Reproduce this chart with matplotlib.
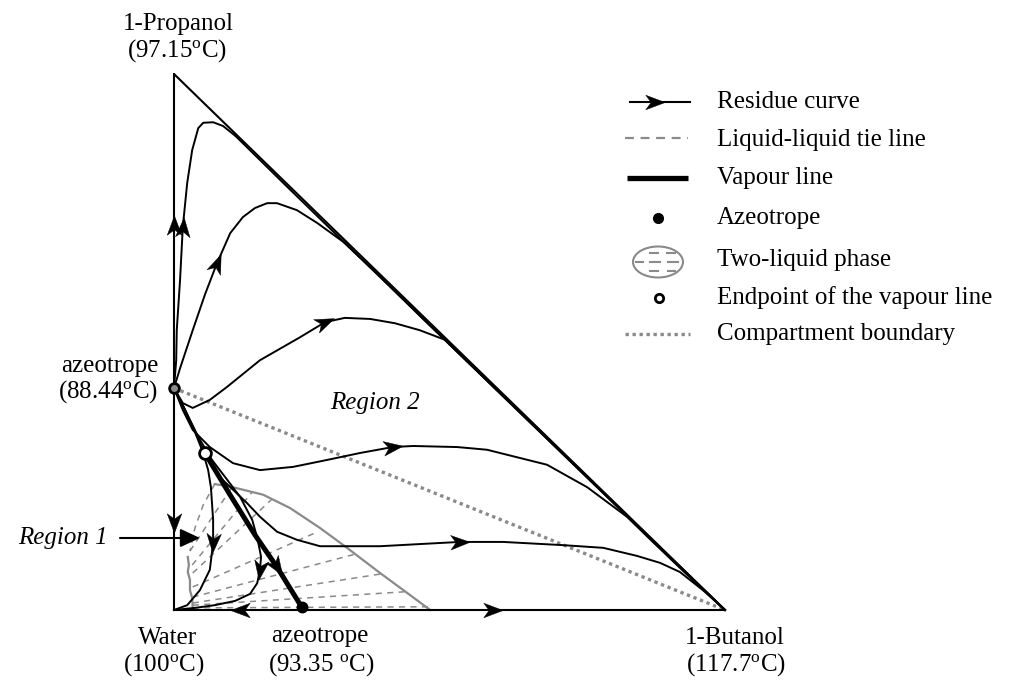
import numpy as np
import matplotlib
matplotlib.use('Agg')
import matplotlib.pyplot as plt
from matplotlib.path import Path
from matplotlib.markers import MarkerStyle
from matplotlib.transforms import Affine2D
from matplotlib.patches import Ellipse

plt.rcParams['font.family'] = ['Liberation Serif', 'DejaVu Serif']
plt.rcParams['mathtext.fontset'] = 'custom'
plt.rcParams['mathtext.rm'] = 'Liberation Serif'
plt.rcParams['mathtext.it'] = 'Liberation Serif:italic'

# compositions as (x_butanol, x_propanol), water is the rest
azeo_pw = (0.0, 0.414)      # 1-propanol / water azeotrope, 88.44 C
azeo_bw = (0.232, 0.005)    # 1-butanol / water azeotrope, 93.35 C
vap_end = (0.056, 0.293)    # endpoint of the vapour line

# residue curves leaving the propanol/water azeotrope
rc_top = [(0, 0.414), (0.004, 0.466), (0.005, 0.522), (0.011, 0.616), (0.016, 0.715),
          (0.024, 0.797), (0.033, 0.858), (0.044, 0.899), (0.053, 0.909), (0.071, 0.910),
          (0.089, 0.903), (0.112, 0.884), (0.2, 0.795), (0.35, 0.645), (0.5, 0.496),
          (0.65, 0.347), (0.8, 0.198), (0.9, 0.099), (1.0, 0.0)]
rc_2 = [(0, 0.414), (0.011, 0.451), (0.022, 0.485), (0.034, 0.522), (0.056, 0.588),
        (0.078, 0.647), (0.102, 0.703), (0.125, 0.733), (0.147, 0.750), (0.169, 0.759),
        (0.187, 0.759), (0.223, 0.746), (0.260, 0.722), (0.307, 0.687), (0.368, 0.628),
        (0.45, 0.545), (0.6, 0.396), (0.75, 0.247), (0.9, 0.098), (1.0, 0.0)]
rc_3 = [(0, 0.414), (0.016, 0.386), (0.034, 0.377), (0.065, 0.392), (0.096, 0.416),
        (0.156, 0.466), (0.229, 0.509), (0.274, 0.537), (0.310, 0.545), (0.356, 0.543),
        (0.401, 0.535), (0.446, 0.522), (0.492, 0.504), (0.6, 0.396), (0.75, 0.247),
        (0.9, 0.098), (1.0, 0.0)]
rc_4 = [(0, 0.414), (0.016, 0.373), (0.034, 0.336), (0.065, 0.304), (0.107, 0.274),
        (0.156, 0.261), (0.216, 0.267), (0.278, 0.280), (0.338, 0.293), (0.397, 0.304),
        (0.434, 0.306), (0.514, 0.304), (0.568, 0.299), (0.677, 0.271), (0.750, 0.229),
        (0.822, 0.174), (0.866, 0.130), (0.929, 0.068), (1.0, 0.0)]
rc_5 = [(0, 0.414), (0.016, 0.382), (0.033, 0.345), (0.056, 0.293), (0.083, 0.248),
        (0.132, 0.200), (0.156, 0.174), (0.187, 0.146), (0.223, 0.131), (0.265, 0.119),
        (0.374, 0.119), (0.446, 0.123), (0.519, 0.127), (0.597, 0.127), (0.706, 0.121),
        (0.779, 0.116), (0.840, 0.101), (0.882, 0.088), (0.918, 0.071), (0.960, 0.037),
        (1.0, 0.0)]
rc_a = [(0, 0.414), (0.020, 0.373), (0.038, 0.332), (0.053, 0.293), (0.062, 0.261),
        (0.067, 0.229), (0.071, 0.168), (0.071, 0.125), (0.065, 0.075), (0.047, 0.037),
        (0.024, 0.009), (0.0, 0.0)]
rc_b = [(0, 0.414), (0.022, 0.369), (0.044, 0.323), (0.069, 0.280), (0.098, 0.241),
        (0.120, 0.211), (0.142, 0.168), (0.152, 0.131), (0.158, 0.099), (0.156, 0.075),
        (0.151, 0.050), (0.138, 0.030), (0.111, 0.017), (0.074, 0.009), (0.038, 0.004),
        (0.0, 0.0)]
# binary edges, split at the azeotropes
edge_pw_water = [(0, 0.414), (0, 0.162), (0, 0.0)]
edge_pw_prop = [(0, 0.414), (0, 0.718), (0, 1.0)]
edge_bw_water = [(0.232, 0.0), (0.120, 0.0), (0.0, 0.0)]
edge_bw_but = [(0.232, 0.0), (0.579, 0.0), (1.0, 0.0)]
residue_curves = [rc_top, rc_2, rc_3, rc_4, rc_5, rc_a, rc_b,
                  edge_pw_water, edge_pw_prop, edge_bw_water, edge_bw_but]
arrow_pts = [(0.016, 0.715), (0.078, 0.647), (0.274, 0.537), (0.397, 0.304),
             (0.519, 0.127), (0.071, 0.125), (0.156, 0.075),
             (0, 0.162), (0, 0.718), (0.120, 0.0), (0.579, 0.0)]

vapour_line = [(0.056, 0.293), (0.101, 0.216), (0.147, 0.140), (0.187, 0.080), (0.232, 0.005)]
vapour_arrow = (0.187, 0.080)

# liquid-liquid envelope
binodal_org = [(0.074, 0.235), (0.107, 0.229), (0.162, 0.215), (0.211, 0.190), (0.265, 0.153),
               (0.314, 0.116), (0.374, 0.069), (0.423, 0.032), (0.465, 0.0)]
binodal_aq = [(0.025, 0.099), (0.027, 0.084), (0.025, 0.071), (0.029, 0.056), (0.029, 0.037),
              (0.033, 0.022), (0.034, 0.004)]
binodal_top = [(0.074, 0.235), (0.053, 0.196), (0.038, 0.153), (0.029, 0.110)]
tie_aq = [(0.029, 0.110), (0.033, 0.084), (0.034, 0.069), (0.034, 0.043),
          (0.034, 0.024), (0.034, 0.013), (0.034, 0.009), (0.034, 0.004)]
tie_org = [(0.105, 0.229), (0.142, 0.220), (0.178, 0.207), (0.261, 0.146),
           (0.328, 0.104), (0.374, 0.067), (0.419, 0.034), (0.461, 0.006)]

# compartment boundary between the two regions
boundary = [(0.0, 0.414), (1.0, 0.0)]

GRAY = '#8a8a8a'
W, H = 1015, 680
fig = plt.figure(figsize=(W / 100, H / 100), dpi=100)
ax = fig.add_axes([0, 0, 1, 1])
ax.set_xlim(-174 / 551, (W - 174) / 551)
ax.set_ylim(-70 / 536, 610 / 536)
ax.axis('off')
# pixel coordinates from the top-left corner, for labels and the key
tpx = Affine2D().scale(1 / W, -1 / H).translate(0, 1) + fig.transFigure

head = Path([(1, 0), (-1, 0.75), (-0.45, 0), (-1, -0.75), (1, 0)],
            [Path.MOVETO, Path.LINETO, Path.LINETO, Path.LINETO, Path.CLOSEPOLY])


def put_arrow(pts, at, trans=None, size=14):
    trans = trans or ax.transData
    disp = trans.transform(np.asarray(pts, float))
    p = trans.transform(at)
    i = int(np.argmin(np.hypot(*(disp - p).T)))
    d = disp[min(i + 1, len(disp) - 1)] - disp[max(i - 1, 0)]
    ang = np.degrees(np.arctan2(d[1], d[0]))
    m = MarkerStyle(head, transform=Affine2D().rotate_deg(ang))
    ax.plot([at[0]], [at[1]], marker=m, ms=size, color='black', mew=0.3,
            ls='none', transform=trans, zorder=6)


# tie lines and two-liquid envelope
for a, b in zip(tie_aq, tie_org):
    ax.plot([a[0], b[0]], [a[1], b[1]], color=GRAY, lw=1.1, ls=(0, (4, 3.5)), zorder=1)
ax.plot(*zip(*binodal_top), color=GRAY, lw=1.1, ls=(0, (4, 3.5)), zorder=1)
ax.plot(*zip(*binodal_org), color=GRAY, lw=1.6, zorder=1)
ax.plot(*zip(*binodal_aq), color=GRAY, lw=1.6, zorder=1)

ax.plot(*zip(*boundary), color=GRAY, lw=2.4, ls=(0, (1, 1.1)), zorder=2)

# triangle
ax.plot([0, 1, 0, 0], [0, 0, 1, 0], color='black', lw=1.5, zorder=3)

for rc, ap in zip(residue_curves, arrow_pts):
    ax.plot(*zip(*rc), color='black', lw=1.4, zorder=4)
    put_arrow(rc, ap)

ax.plot(*zip(*vapour_line), color='black', lw=3.6, solid_capstyle='butt', zorder=5)
put_arrow(vapour_line, vapour_arrow)

ax.plot(*azeo_bw, 'o', ms=7.5, color='black', zorder=7)
ax.plot(*vap_end, 'o', ms=8.5, mfc='white', mec='black', mew=2, zorder=7)
ax.plot(*azeo_pw, 'o', ms=7, mfc=GRAY, mec='black', mew=2, zorder=7)

# vertex and azeotrope labels
fs = 18
deg = r'$^{\mathrm{o}}$'
labels = [('1-Propanol', 178, 24), ('(97.15' + deg + 'C)', 177, 51),
          ('azeotrope', 110, 366), ('(88.44' + deg + 'C)', 108, 392),
          ('Water', 168, 638), ('(100' + deg + 'C)', 164, 665),
          ('azeotrope', 320, 636), ('(93.35 ' + deg + 'C)', 321, 665),
          ('1-Butanol', 735, 638), ('(117.7' + deg + 'C)', 736, 665)]
for s, x, y in labels:
    ax.text(x, y, s, transform=tpx, ha='center', va='center', fontsize=fs)

ax.text(330, 403, 'Region 2', transform=tpx, ha='left', va='center',
        fontsize=fs, style='italic')
ax.text(108, 538, 'Region 1', transform=tpx, ha='right', va='center',
        fontsize=fs, style='italic')
ax.annotate('', xy=(200, 538), xytext=(120, 538), xycoords=tpx, textcoords=tpx,
            arrowprops=dict(arrowstyle='-|>,head_length=0.6,head_width=0.28',
                            mutation_scale=20, lw=1.5, color='black',
                            shrinkA=0, shrinkB=0), zorder=8)

# key
key = ['Residue curve', 'Liquid-liquid tie line', 'Vapour line', 'Azeotrope',
       'Two-liquid phase', 'Endpoint of the vapour line', 'Compartment boundary']
key_y = [102, 140, 178, 218, 260, 298, 334]
for s, y in zip(key, key_y):
    ax.text(717, y, s, transform=tpx, ha='left', va='center', fontsize=fs)

ax.plot([630, 690], [102, 102], color='black', lw=1.5, transform=tpx)
put_arrow([(630, 102), (655, 102), (690, 102)], (655, 102), trans=tpx)
ax.plot([625, 688], [138, 138], color=GRAY, lw=1.6, ls=(0, (4, 3)), transform=tpx)
ax.plot([627, 688], [178, 178], color='black', lw=3.8, solid_capstyle='butt', transform=tpx)
ax.plot([658], [218], 'o', ms=7, color='black', transform=tpx)
ax.add_patch(Ellipse((658, 262), 50, 31, transform=tpx, fill=False, ec=GRAY, lw=1.5))
for xa, xb, y in [(650, 658, 253), (667, 675, 253), (636, 643, 262), (650, 660, 262),
                  (668, 678, 262), (650, 658, 271), (668, 675, 271)]:
    ax.plot([xa, xb], [y, y], color=GRAY, lw=1.5, transform=tpx)
ax.plot([659], [298], 'o', ms=6, mfc='white', mec='black', mew=2, transform=tpx)
ax.plot([625, 690], [334, 334], color=GRAY, lw=2.4, ls=(0, (1, 1.1)), transform=tpx)

fig.savefig('out.png', dpi=100)
